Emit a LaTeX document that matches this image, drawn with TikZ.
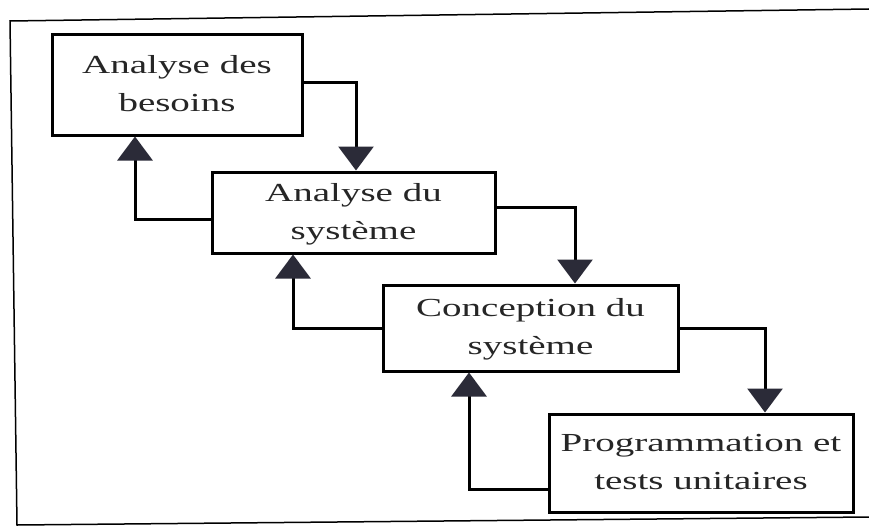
\documentclass[tikz,border=0pt]{standalone}
\usepackage{fontspec}
\usepackage{graphicx}
\setmainfont{Liberation Serif}
\usetikzlibrary{arrows.meta}

\definecolor{tipcolor}{HTML}{2B2B38}

% wide, stretched two-line label
\newcommand\widelabel[1]{\scalebox{1.5}[1]{\begin{tabular}{@{}c@{}}#1\end{tabular}}}

\tikzset{
  phase/.style={draw=black, line width=3pt, fill=white, rectangle,
    inner sep=0pt, text=black!85,
    font=\fontsize{26}{38}\selectfont},
  flow/.style={draw=black, line width=3pt,
    -{Triangle[width=35pt,length=24pt,color=tipcolor]}},
  frame/.style={draw=black, line width=1.5pt}
}

\begin{document}
\begin{tikzpicture}[x=1pt, y=-1pt]
  \useasboundingbox (0,0) rectangle (869,527);
  \fill[white] (0,0) rectangle (869,527);

  % outer frame (open on the right)
  \coordinate (ftr) at (869,9);
  \coordinate (ftl) at (10,21);
  \coordinate (fbl) at (17,525);
  \coordinate (fbr) at (869,517);
  \draw[frame] (ftr) -- (ftl) -- (fbl) -- (fbr);

  % the four phases
  \node[phase, minimum width=250pt, minimum height=100pt] (b1) at (177,85)
    {\widelabel{Analyse des\\besoins}};
  \node[phase, minimum width=283pt, minimum height=81pt] (b2) at (353.5,212.5)
    {\widelabel{Analyse du\\système}};
  \node[phase, minimum width=295pt, minimum height=86pt] (b3) at (530.5,328)
    {\widelabel{Conception du\\système}};
  \node[phase, minimum width=304pt, minimum height=98pt] (b4) at (701,463)
    {\widelabel{Programmation et\\tests unitaires}};

  % downward flow
  \draw[flow] ([yshift=3pt]b1.east) -| ([xshift=2.5pt]b2.north);
  \draw[flow] ([yshift=5.5pt]b2.east) -| ([xshift=44.5pt]b3.north);
  \draw[flow] (b3.east) -| ([xshift=64pt]b4.north);

  % feedback to the previous phase
  \draw[flow] ([yshift=-6.5pt]b2.west) -| ([xshift=-42pt]b1.south);
  \draw[flow] (b3.west) -| ([xshift=-60.5pt]b2.south);
  \draw[flow] ([yshift=-26pt]b4.west) -| ([xshift=-61.5pt]b3.south);
\end{tikzpicture}
\end{document}
